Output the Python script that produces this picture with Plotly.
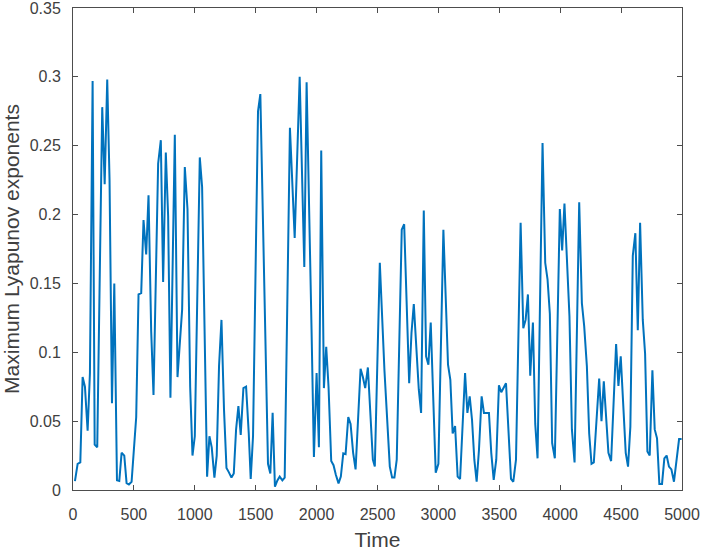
import plotly.graph_objects as go

time = [16, 38, 60, 79, 98, 120, 139, 161, 178, 199, 240, 260, 281, 300, 320, 339, 361, 380, 399, 421,
        440, 459, 481, 500, 519, 538, 560, 579, 601, 620, 642, 661, 699, 721, 740, 762, 781, 800, 836,
        858, 877, 896, 918, 940, 962, 981, 1000, 1041, 1060, 1082, 1101, 1120, 1139, 1161, 1180, 1199,
        1219, 1240, 1260, 1279, 1301, 1320, 1339, 1358, 1377, 1399, 1421, 1443, 1459, 1478, 1519, 1538,
        1601, 1620, 1639, 1658, 1678, 1697, 1719, 1738, 1781, 1820, 1861, 1899, 1918, 1959, 1978, 2000,
        2019, 2038, 2060, 2079, 2098, 2120, 2139, 2158, 2180, 2199, 2219, 2238, 2260, 2279, 2300, 2320,
        2361, 2380, 2399, 2421, 2440, 2462, 2478, 2519, 2557, 2579, 2601, 2620, 2639, 2658, 2699, 2719,
        2738, 2760, 2779, 2798, 2839, 2858, 2880, 2899, 2918, 2937, 2978, 3000, 3041, 3079, 3098, 3117,
        3137, 3158, 3178, 3219, 3238, 3257, 3276, 3295, 3314, 3333, 3355, 3374, 3396, 3415, 3434, 3454,
        3475, 3497, 3516, 3536, 3555, 3596, 3615, 3637, 3675, 3697, 3716, 3735, 3754, 3776, 3795, 3814,
        3855, 3877, 3896, 3915, 3934, 3956, 3997, 4016, 4035, 4076, 4096, 4118, 4156, 4178, 4197, 4219,
        4238, 4257, 4276, 4320, 4339, 4358, 4396, 4418, 4459, 4478, 4497, 4538, 4557, 4576, 4596, 4617,
        4637, 4656, 4678, 4697, 4716, 4735, 4757, 4776, 4795, 4814, 4836, 4855, 4874, 4893, 4913, 4934,
        4954, 4976, 4997]

lyap = [0.0065, 0.019, 0.020, 0.082, 0.075, 0.043, 0.085, 0.297, 0.033, 0.031, 0.278, 0.222, 0.298, 0.225, 0.063, 0.150, 0.007, 0.0065, 0.027, 0.025,
        0.005, 0.004, 0.006, 0.030, 0.053, 0.142, 0.143, 0.196, 0.171, 0.214, 0.115, 0.069, 0.237, 0.254, 0.151, 0.245, 0.199, 0.067, 0.258,
        0.082, 0.104, 0.131, 0.2345, 0.204, 0.075, 0.025, 0.039, 0.2415, 0.220, 0.100, 0.0097, 0.039, 0.031, 0.009, 0.025, 0.090,
        0.1235, 0.058, 0.016, 0.013, 0.009, 0.012, 0.044, 0.061, 0.040, 0.074, 0.075, 0.041, 0.008, 0.039, 0.275, 0.2875,
        0.019, 0.012, 0.056, 0.0024, 0.007, 0.0097, 0.007, 0.009, 0.263, 0.183, 0.300, 0.162, 0.296, 0.114, 0.024, 0.085,
        0.031, 0.2466, 0.074, 0.104, 0.075, 0.021, 0.018, 0.011, 0.0048, 0.0097, 0.0266, 0.026, 0.053, 0.048, 0.027, 0.015,
        0.088, 0.082, 0.074, 0.089, 0.056, 0.022, 0.017, 0.165, 0.087, 0.051, 0.017, 0.009, 0.009, 0.022, 0.189, 0.193,
        0.133, 0.0775, 0.114, 0.135, 0.073, 0.056, 0.203, 0.097, 0.091, 0.1216, 0.0126, 0.019, 0.189, 0.091, 0.080, 0.041,
        0.0465, 0.0097, 0.008, 0.085, 0.056, 0.068, 0.051, 0.022, 0.006, 0.029, 0.068, 0.056, 0.056, 0.056, 0.027, 0.0073,
        0.022, 0.076, 0.071, 0.075, 0.0775, 0.008, 0.006, 0.022, 0.194, 0.1175, 0.1235, 0.142, 0.083, 0.1216, 0.048, 0.023,
        0.252, 0.165, 0.153, 0.128, 0.034, 0.023, 0.204, 0.174, 0.208, 0.126, 0.044, 0.020, 0.209, 0.1357, 0.119, 0.090,
        0.041, 0.019, 0.020, 0.081, 0.050, 0.079, 0.027, 0.021, 0.106, 0.0756, 0.097, 0.027, 0.017, 0.046, 0.170, 0.1865,
        0.116, 0.194, 0.1235, 0.099, 0.028, 0.025, 0.087, 0.044, 0.0375, 0.0044, 0.0044, 0.023, 0.025, 0.017, 0.015, 0.006,
        0.022, 0.037, 0.037]

x_ticks = [0, 500, 1000, 1500, 2000, 2500, 3000, 3500, 4000, 4500, 5000]
y_ticks = [0, 0.05, 0.1, 0.15, 0.2, 0.25, 0.3, 0.35]
y_tick_labels = ["0", "0.05", "0.1", "0.15", "0.2", "0.25", "0.3", "0.35"]

FONT = "Liberation Sans, Arial"
TXT = "#404040"

fig = go.Figure()
fig.add_trace(go.Scatter(x=time, y=lyap, mode="lines",
                         line=dict(color="#0072BD", width=2), showlegend=False))

axis_common = dict(showline=True, linecolor="#4d4d4d", linewidth=1, mirror="ticks",
                   ticks="inside", ticklen=5, tickcolor="#4d4d4d", showgrid=False,
                   zeroline=False, automargin=False, ticklabeloverflow="allow",
                   tickfont=dict(family=FONT, size=16, color=TXT))

fig.update_xaxes(range=[0, 5000], tickvals=x_ticks, ticklabelstandoff=10,
                 title=dict(text="Time", font=dict(family=FONT, size=21, color=TXT), standoff=12),
                 **axis_common)
fig.update_yaxes(range=[0, 0.35], tickvals=y_ticks, ticktext=y_tick_labels, ticklabelstandoff=8,
                 title=dict(text="Maximum Lyapunov exponents", font=dict(family=FONT, size=21, color=TXT), standoff=5),
                 **axis_common)

fig.update_layout(width=704, height=551, margin=dict(l=73, r=22, t=8, b=61),
                  plot_bgcolor="white", paper_bgcolor="white")

fig.write_html("out.html", config={"displayModeBar": False},
               post_script="document.body.style.margin='0';")
